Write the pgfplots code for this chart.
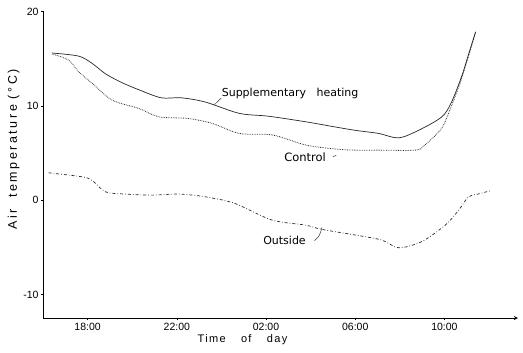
\documentclass[border=0pt]{standalone}
\usepackage{fontspec}
\setmainfont{Liberation Sans}
\newfontfamily\lab{DejaVu Sans}
\usepackage{pgfplots}
\pgfplotsset{compat=1.18}
\begin{document}
\begin{tikzpicture}
\begin{axis}[
  scale only axis, width=475pt, height=306.5pt,
  xmin=16, xmax=37.3, ymin=-12.5, ymax=20,
  axis x line=bottom, axis y line=left,
  x axis line style={-stealth, line width=0.9pt},
  y axis line style={-, line width=0.9pt},
  xtick={18,22,26,30,34}, xticklabels={18:00,22:00,02:00,06:00,10:00},
  ytick={-10,0,10,20},
  tick align=outside, major tick length=2pt,
  tick style={black, line width=0.6pt},
  /pgf/number format/assume math mode=true,
  ticklabel style={font=\fontsize{10.5}{12}\selectfont},
  yticklabel style={xshift=1pt},
  xlabel={Time\quad\ of\quad\ day},
  xlabel style={at={(ticklabel cs:0.42)}, font=\fontsize{11}{13}\selectfont\addfontfeature{LetterSpace=12}, yshift=3pt},
  ylabel={Air\ \ temperature (°C)},
  ylabel style={at={(ticklabel cs:0.55)}, font=\fontsize{12.5}{14}\selectfont\addfontfeature{LetterSpace=20}, yshift=-3pt},
  every axis plot/.append style={black!85, line width=0.7pt, smooth, tension=0.5},
  clip=false,
]
% Supplementary heating
\addplot[solid] coordinates {
(16.4,15.6) (17.6,15.27) (18.2,14.5) (18.8,13.4) (19.5,12.5) (20.3,11.7)
(21.3,10.85) (22.2,10.85) (23.28,10.4) (24.8,9.2) (26.1,8.9) (27.8,8.3)
(29.0,7.8) (30.0,7.4) (31.05,7.07) (31.95,6.6) (32.84,7.4) (33.87,8.8)
(34.3,10.3) (34.77,13.1) (35.1,15.6) (35.4,17.85)
};
% Control
\addplot[densely dotted, line width=0.8pt] coordinates {
(16.4,15.5) (17.15,14.85) (17.6,13.6) (18.2,12.4) (19.1,10.6) (20.3,9.72)
(21.2,8.83) (22.5,8.66) (23.6,8.13) (24.8,7.07) (26.3,6.9) (27.8,5.83)
(29.2,5.4) (30.0,5.3) (31.05,5.3) (32.7,5.3) (33.1,5.8) (33.87,7.6)
(34.3,9.9) (34.7,12.4) (35.1,15.4) (35.4,17.85)
};
% Outside
\addplot[dash dot] coordinates {
(16.25,2.9) (17.75,2.47) (18.2,2.1) (18.8,0.88) (19.7,0.64) (20.9,0.53)
(22.1,0.64) (23.28,0.35) (24.6,-0.35) (26.25,-2.1) (27.76,-2.65) (28.5,-3.1)
(30.0,-3.7) (31.2,-4.24) (31.95,-5.05) (32.98,-4.4) (34.04,-2.65) (34.64,-1.06)
(35.08,0.35) (35.5,0.64) (36.06,0.99)
};
\node[font=\lab\fontsize{11}{13}\selectfont] at (axis cs:27.08,11.3) {Supplementary\ \ \ heating};
\node[font=\lab\fontsize{11.5}{13}\selectfont] at (axis cs:27.75,4.56) {Control};
\node[font=\lab\fontsize{11}{13}\selectfont] at (axis cs:26.83,-4.24) {Outside};
\draw[black!80, line width=0.5pt] (axis cs:23.99,10.82) -- (axis cs:23.69,10.13);
\draw[black!80, line width=0.5pt] (axis cs:28.18,-4.3) .. controls (axis cs:28.4,-3.8) .. (axis cs:28.51,-2.9);
\draw[black!80, line width=0.5pt] (axis cs:29.0,4.6) -- (axis cs:29.15,4.75);
\end{axis}
\path ([xshift=-43pt,yshift=-34pt]current axis.south west) rectangle ([xshift=5pt,yshift=11.5pt]current axis.north east);
\end{tikzpicture}
\end{document}
